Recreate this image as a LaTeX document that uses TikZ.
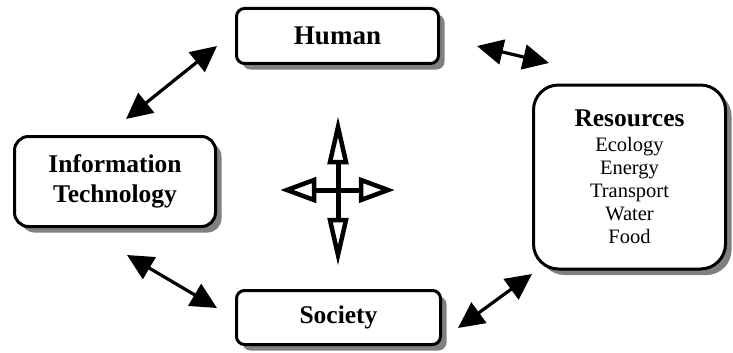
\documentclass[tikz,border=0pt]{standalone}
\usepackage{fontspec}
\setmainfont{Liberation Serif}
\usetikzlibrary{arrows.meta,shadows}
\definecolor{shadowgray}{RGB}{128,128,128}
\begin{document}
\begin{tikzpicture}[x=1pt,y=-1pt,
  box/.style={draw, line width=3pt, fill=white, rectangle, align=center, inner sep=0pt,
    font=\fontsize{25.5}{30}\selectfont\bfseries,
    drop shadow={shadow xshift=6pt, shadow yshift=-6pt, fill=shadowgray, opacity=1}},
  link/.style={line width=3.2pt, {Triangle[length=26pt,width=25pt]}-{Triangle[length=26pt,width=25pt]}},
  openhead/.style={draw, line width=4.5pt, fill=white, line join=miter, miter limit=10},
  shaft/.style={line width=5pt}]
\useasboundingbox (0,0) rectangle (733,353);

\node[box, rounded corners=8pt, minimum width=202pt, minimum height=55pt,
  font=\fontsize{27}{30}\selectfont\bfseries] (human) at (337.5,36) {Human};
\node[box, rounded corners=14pt, minimum width=201pt, minimum height=90pt] (it) at (115,181.5) {Information\\Technology};
\node[box, rounded corners=8pt, minimum width=204pt, minimum height=54pt] (society) at (338.5,317.5) {Society};
\node[box, rounded corners=25pt, minimum width=192pt, minimum height=184pt,
  font=\fontsize{20.5}{23}\selectfont] (res) at (629.5,177)
  {{\fontsize{25.5}{27}\selectfont\bfseries Resources}\\[2pt]
   Ecology\\ Energy\\ Transport\\ Water\\ Food};

% connector end points
\coordinate (ih1) at (126,119);  \coordinate (ih2) at (217,46);
\coordinate (hr1) at (477,46);   \coordinate (hr2) at (549,63);
\coordinate (is1) at (127,255);  \coordinate (is2) at (217,308);
\coordinate (sr1) at (458,328);  \coordinate (sr2) at (532,274);

\draw[link] (ih1) -- (ih2);
\draw[link] (hr1) -- (hr2);
\draw[link] (is1) -- (is2);
\draw[link] (sr1) -- (sr2);

% central cross
\coordinate (c) at (338,190);
\draw[shaft] (338,163) -- (338,219);
\draw[shaft] (315,190) -- (360,190);
\draw[openhead] (338,127) -- (346,162) -- (330,162) -- cycle;
\draw[openhead] (338,255) -- (346,220) -- (330,220) -- cycle;
\draw[openhead] (287,190) -- (314,180) -- (314,200) -- cycle;
\draw[openhead] (388,190) -- (361,180) -- (361,200) -- cycle;
\end{tikzpicture}
\end{document}
